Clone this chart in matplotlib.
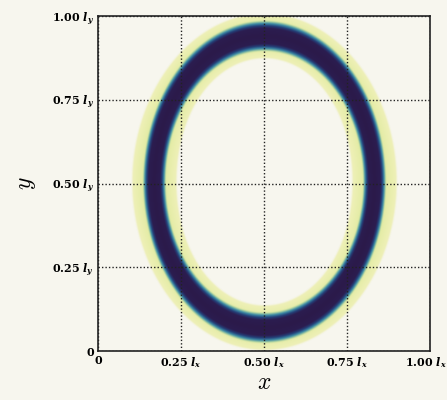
import numpy as np
import matplotlib
matplotlib.use("Agg")
import matplotlib.pyplot as plt
from matplotlib.colors import LinearSegmentedColormap, to_rgba
import matplotlib.transforms as mtransforms

# --- data ---
center = [0.50, 0.505]          # ellipse centre (fraction of l_x, l_y)
semi_axes = [0.331, 0.436]      # semi-axes of the ring (centre line of the dark band)
core_halfwidth = 0.12           # normalised half-width of the dark core
halo_halfwidth = 0.072          # geometric half-width of the pale halo
x_ticks = [0, 0.25, 0.50, 0.75, 1.00]
x_ticklabels = ["0", "0.25 $l_x$", "0.50 $l_x$", "0.75 $l_x$", "1.00 $l_x$"]
y_ticks = [0, 0.25, 0.50, 0.75, 1.00]
y_ticklabels = ["0", "0.25 $l_y$", "0.50 $l_y$", "0.75 $l_y$", "1.00 $l_y$"]

bg = "#f7f6ee"


def rgba(c, a=1.0):
    r, g, b, _ = to_rgba(c)
    return (r, g, b, a)


core_stops = [(0.0, rgba("#2b1a4a")), (0.44, rgba("#2c1d50")), (0.58, rgba("#243f78")),
              (0.71, rgba("#3a88a4")), (0.82, rgba("#a2cca2")), (0.92, rgba("#cfe3a0", 0.0)),
              (1.0, rgba("#cfe3a0", 0.0))]
halo_stops = [(0.0, rgba("#d6e79e")), (0.5, rgba("#e4eca6")), (0.88, rgba("#eef0b6")),
              (0.97, rgba("#eef0b6", 0.0)), (1.0, rgba("#eef0b6", 0.0))]

plt.rcParams["mathtext.fontset"] = "custom"
plt.rcParams["mathtext.rm"] = "DejaVu Serif:bold"
plt.rcParams["mathtext.it"] = "DejaVu Serif:italic:bold"
plt.rcParams["mathtext.bf"] = "DejaVu Serif:bold"

fig = plt.figure(figsize=(4.47, 4.0), dpi=100, facecolor=bg)
ax = fig.add_axes([0.219, 0.1225, 0.743, 0.8375], facecolor=bg)

n = 900
xs = np.linspace(0, 1, n)
ys = np.linspace(0, 1, n)
X, Y = np.meshgrid(xs, ys)
r = np.sqrt(((X - center[0]) / semi_axes[0]) ** 2 + ((Y - center[1]) / semi_axes[1]) ** 2)
ang = np.arctan2((Y - center[1]) / semi_axes[1], (X - center[0]) / semi_axes[0])
local = np.sqrt((semi_axes[0] * np.cos(ang)) ** 2 + (semi_axes[1] * np.sin(ang)) ** 2)
d_geo = np.abs(r - 1.0) * local
d_norm = np.abs(r - 1.0)

halo_cmap = LinearSegmentedColormap.from_list("halo", halo_stops)
halo_cmap.set_over((0, 0, 0, 0))
core_cmap = LinearSegmentedColormap.from_list("core", core_stops)
core_cmap.set_over((0, 0, 0, 0))

ax.imshow(d_geo / halo_halfwidth, extent=[0, 1, 0, 1], origin="lower", cmap=halo_cmap,
          vmin=0, vmax=1, interpolation="bilinear", aspect="auto", zorder=1)
ax.imshow(d_norm / core_halfwidth, extent=[0, 1, 0, 1], origin="lower", cmap=core_cmap,
          vmin=0, vmax=1, interpolation="bilinear", aspect="auto", zorder=1.1)

ax.set_xlim(0, 1)
ax.set_ylim(0, 1)
ax.set_xticks(x_ticks)
ax.set_xticklabels(x_ticklabels)
ax.set_yticks(y_ticks)
ax.set_yticklabels(y_ticklabels)
ax.tick_params(length=0, pad=3, labelsize=8)
for lab in ax.get_xticklabels() + ax.get_yticklabels():
    lab.set_fontfamily("DejaVu Serif")
    lab.set_fontweight("bold")
last = ax.get_xticklabels()[-1]
last.set_transform(last.get_transform() + mtransforms.ScaledTranslation(-4 / 100, 0, fig.dpi_scale_trans))
ax.grid(True, color="#222222", linestyle=(0, (1, 1.5)), linewidth=1.0, zorder=2)
ax.set_axisbelow(False)
for s in ax.spines.values():
    s.set_linewidth(1.2)
    s.set_color("#222222")

xl = ax.set_xlabel("$x$", fontsize=17, labelpad=0)
yl = ax.set_ylabel("$y$", fontsize=17, labelpad=10)
xl.set_math_fontfamily("cm")
yl.set_math_fontfamily("cm")

fig.savefig("out.png", dpi=100, facecolor=bg)
